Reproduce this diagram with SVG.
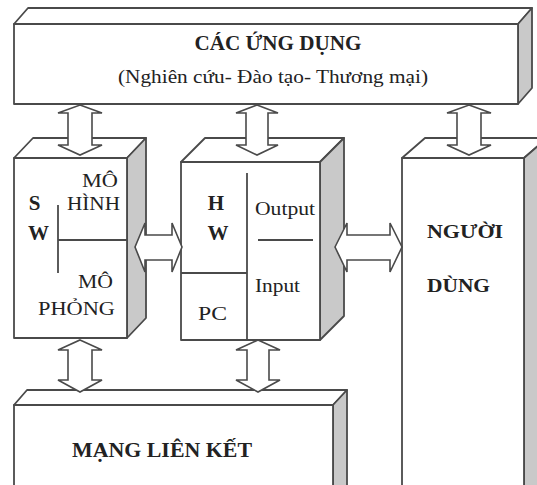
<svg xmlns="http://www.w3.org/2000/svg" width="537" height="485" viewBox="0 0 537 485">
<style>
.face{fill:#ffffff;stroke:#4a4a4a;stroke-width:1.8;stroke-linejoin:round}
.side{fill:#c9c9c9;stroke:#4a4a4a;stroke-width:1.8;stroke-linejoin:round}
.ln{stroke:#4a4a4a;stroke-width:1.8;fill:none}
.arr{fill:#ffffff;stroke:#4a4a4a;stroke-width:1.6;stroke-linejoin:miter}
text{font-family:"Liberation Serif","Times New Roman",serif;fill:#222}
.b{font-weight:bold}
</style>
<rect width="537" height="485" fill="#ffffff"/>

<g id="apps">
<polygon class="face" points="14,24 28,8 532,8 518,24"/>
<polygon class="side" points="518,24 532,8 532,88 518,104"/>
<rect class="face" x="14" y="24" width="504" height="80"/>
<text class="b" x="278" y="50" font-size="20" text-anchor="middle" textLength="167" lengthAdjust="spacingAndGlyphs">CÁC ỨNG DỤNG</text>
<text x="273" y="83" font-size="19" text-anchor="middle" textLength="310" lengthAdjust="spacingAndGlyphs">(Nghiên cứu- Đào tạo- Thương mại)</text>
</g>

<g id="sw">
<polygon class="face" points="14,158 33,138 146,138 127,158"/>
<polygon class="side" points="127,158 146,138 146,318 127,338"/>
<rect class="face" x="14" y="158" width="113" height="180"/>
<line class="ln" x1="58" y1="205" x2="58" y2="273"/>
<line class="ln" x1="58" y1="240" x2="127" y2="240"/>
<text class="b" x="34.5" y="210" font-size="21" text-anchor="middle">S</text>
<text class="b" x="38.5" y="240" font-size="21" text-anchor="middle">W</text>
<text x="100" y="187" font-size="18" text-anchor="middle" textLength="36" lengthAdjust="spacingAndGlyphs">MÔ</text>
<text x="93.5" y="210" font-size="18" text-anchor="middle" textLength="53" lengthAdjust="spacingAndGlyphs">HÌNH</text>
<text x="95.5" y="288" font-size="18" text-anchor="middle" textLength="35" lengthAdjust="spacingAndGlyphs">MÔ</text>
<text x="76.5" y="315" font-size="18" text-anchor="middle" textLength="77" lengthAdjust="spacingAndGlyphs">PHỎNG</text>
</g>

<g id="hw">
<polygon class="face" points="181,162 205,138 344,138 320,162"/>
<polygon class="side" points="320,162 344,138 344,316 320,340"/>
<rect class="face" x="181" y="162" width="139" height="178"/>
<line class="ln" x1="247" y1="173" x2="247" y2="340"/>
<line class="ln" x1="181" y1="273" x2="247" y2="273"/>
<line class="ln" x1="258" y1="240" x2="313" y2="240"/>
<text class="b" x="216" y="210" font-size="21" text-anchor="middle">H</text>
<text class="b" x="218" y="240" font-size="21" text-anchor="middle">W</text>
<text x="255" y="215" font-size="19" textLength="60" lengthAdjust="spacingAndGlyphs">Output</text>
<text x="255" y="292" font-size="19" textLength="45" lengthAdjust="spacingAndGlyphs">Input</text>
<text x="212.5" y="320" font-size="19" text-anchor="middle" textLength="29" lengthAdjust="spacingAndGlyphs">PC</text>
</g>

<g id="user">
<polygon class="face" points="402,158 425,138 547,138 524,158"/>
<polygon class="side" points="524,158 547,138 547,500 524,500"/>
<rect class="face" x="402" y="158" width="122" height="340"/>
<text class="b" x="427" y="238" font-size="19" textLength="76" lengthAdjust="spacingAndGlyphs">NGƯỜI</text>
<text class="b" x="427" y="292" font-size="19" textLength="63" lengthAdjust="spacingAndGlyphs">DÙNG</text>
</g>

<g id="net">
<polygon class="face" points="14,405 27,390 347,390 333,405"/>
<polygon class="side" points="333,405 347,390 347,500 333,500"/>
<rect class="face" x="14" y="405" width="319" height="95"/>
<text class="b" x="72" y="457" font-size="21" textLength="180" lengthAdjust="spacingAndGlyphs">MẠNG LIÊN KẾT</text>
</g>

<g id="connectors">
<polygon class="arr" points="80,105 102,113 92,113 92,145 102,145 80,155 58,145 68,145 68,113 58,113"/>
<polygon class="arr" points="257,105 278,113 268,113 268,145 278,145 257,155 236,145 246,145 246,113 236,113"/>
<polygon class="arr" points="469,105 491,113 481,113 481,145 491,145 469,155 447,145 457,145 457,113 447,113"/>
<polygon class="arr" points="80,340 102,350 92,350 92,380 102,380 80,392 58,380 68,380 68,350 58,350"/>
<polygon class="arr" points="258,340 280,350 269,350 269,380 280,380 258,392 236,380 247,380 247,350 236,350"/>
<polygon class="arr" points="135,247 145,223 145,235 172,235 172,223 182,247 172,272 172,260 145,260 145,272"/>
<polygon class="arr" points="335,247 347,223 347,235 390,235 390,223 402,247 390,272 390,260 347,260 347,272"/>
</g>
</svg>
